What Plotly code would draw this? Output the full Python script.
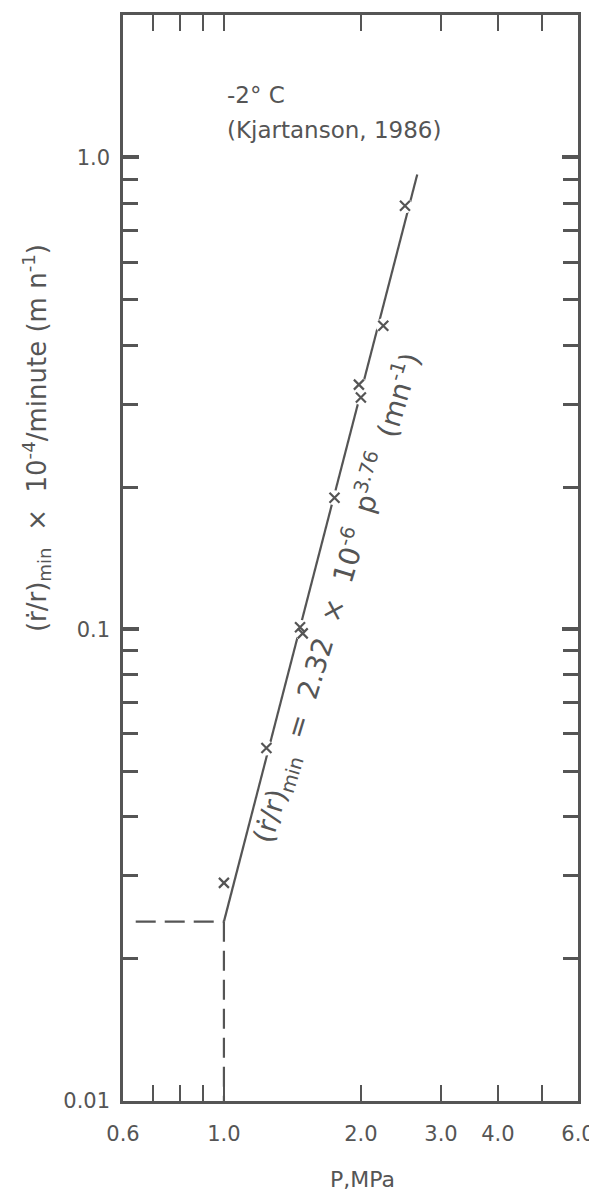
import plotly.graph_objects as go

# measured points, Kjartanson 1986, -2 C
pressure = [1.0, 1.24, 1.47, 1.49, 1.75, 1.98, 2.0, 2.24, 2.50]
rate = [0.029, 0.056, 0.101, 0.098, 0.19, 0.33, 0.31, 0.44, 0.79]

# fitted power law line end points
fit_p = [1.0, 2.66]
fit_rate = [0.024, 0.92]

# dashed guide lines
guide_h_p = [0.64, 1.0]
guide_h_rate = [0.024, 0.024]
guide_v_p = [1.0, 1.0]
guide_v_rate = [0.024, 0.01]

x_major = [0.6, 1.0, 2.0, 3.0, 4.0, 6.0]
x_labels = ["0.6", "1.0", "2.0", "3.0", "4.0", "6.0"]
x_minor = [0.7, 0.8, 0.9, 5.0]
y_major = [0.01, 0.1, 1.0]
y_labels = ["0.01", "0.1", "1.0"]
y_minor = [m * d for d in (0.01, 0.1) for m in range(2, 10)]

ink = "#555555"
font = "DejaVu Sans"
sp = "\u00a0"

fig = go.Figure()

fig.add_trace(go.Scatter(x=guide_h_p, y=guide_h_rate, mode="lines",
                         line=dict(color=ink, width=2.2, dash="20px,9px")))
fig.add_trace(go.Scatter(x=guide_v_p, y=guide_v_rate, mode="lines",
                         line=dict(color=ink, width=2.2, dash="20px,9px")))
fig.add_trace(go.Scatter(x=fit_p, y=fit_rate, mode="lines",
                         line=dict(color=ink, width=2.2)))
# white pads so the line breaks at each point
fig.add_trace(go.Scatter(x=pressure, y=rate, mode="markers",
                         marker=dict(symbol="circle", size=15, color="white")))
fig.add_trace(go.Scatter(x=pressure, y=rate, mode="markers",
                         marker=dict(symbol="x-thin", size=10,
                                     line=dict(color=ink, width=2.2))))

gap = sp * 2
eq_text = ("(ṙ/r)<sub>min</sub>" + gap + "=" + gap + "2.32" + gap + "×" + gap +
           "10<sup>-6</sup>" + gap + "p<sup>3.76</sup>" + gap + "(mn<sup>-1</sup>)")
ytitle = ("(ṙ/r)<sub>min</sub>" + sp * 2 + "×" + sp * 2 +
          "10<sup>-4</sup>/minute (m n<sup>-1</sup>)")

fig.add_annotation(x=0.224, y=0.9265, xref="paper", yref="paper", text="-2° C",
                   showarrow=False, xanchor="left", yanchor="middle",
                   font=dict(family=font, size=23, color=ink))
fig.add_annotation(x=0.224, y=0.894, xref="paper", yref="paper",
                   text="(Kjartanson, 1986)", showarrow=False,
                   xanchor="left", yanchor="middle",
                   font=dict(family=font, size=23, color=ink))
fig.add_annotation(x=0.47, y=0.463, xref="paper", yref="paper", textangle=-73,
                   text=eq_text, showarrow=False, xanchor="center", yanchor="middle",
                   font=dict(family=font, size=28, color=ink))
fig.add_annotation(x=-0.19, y=0.61, xref="paper", yref="paper", textangle=-90,
                   text=ytitle, showarrow=False, xanchor="center", yanchor="middle",
                   font=dict(family=font, size=26, color=ink))
fig.add_annotation(x=0.527, y=-0.0725, xref="paper", yref="paper", text="P,MPa",
                   showarrow=False, xanchor="center", yanchor="middle",
                   font=dict(family=font, size=22, color=ink))

fig.update_xaxes(type="log", range=[-0.2218, 0.7782],
                 tickvals=x_major, ticktext=x_labels,
                 ticks="inside", ticklen=16, tickwidth=2.2, tickcolor=ink,
                 minor=dict(tickvals=x_minor, ticks="inside", ticklen=16,
                            tickwidth=2.2, tickcolor=ink, showgrid=False),
                 showline=True, linewidth=2.5, linecolor=ink, mirror="ticks",
                 showgrid=False, zeroline=False, ticklabelstandoff=12,
                 tickfont=dict(family=font, size=21, color=ink))
fig.update_yaxes(type="log", range=[-2, 0.302],
                 tickvals=y_major, ticktext=y_labels,
                 ticks="inside", ticklen=16, tickwidth=3.5, tickcolor=ink,
                 minor=dict(tickvals=y_minor, ticks="inside", ticklen=15,
                            tickwidth=2.5, tickcolor=ink, showgrid=False),
                 showline=True, linewidth=2.5, linecolor=ink, mirror="ticks",
                 showgrid=False, zeroline=False, ticklabelstandoff=6,
                 tickfont=dict(family=font, size=21, color=ink))

# page adds an 8px body margin, so margins are trimmed to land the box in place
fig.update_layout(width=597, height=1193, showlegend=False,
                  plot_bgcolor="white", paper_bgcolor="white",
                  margin=dict(l=115, r=27, t=4, b=100))

fig.write_html("out.html")
